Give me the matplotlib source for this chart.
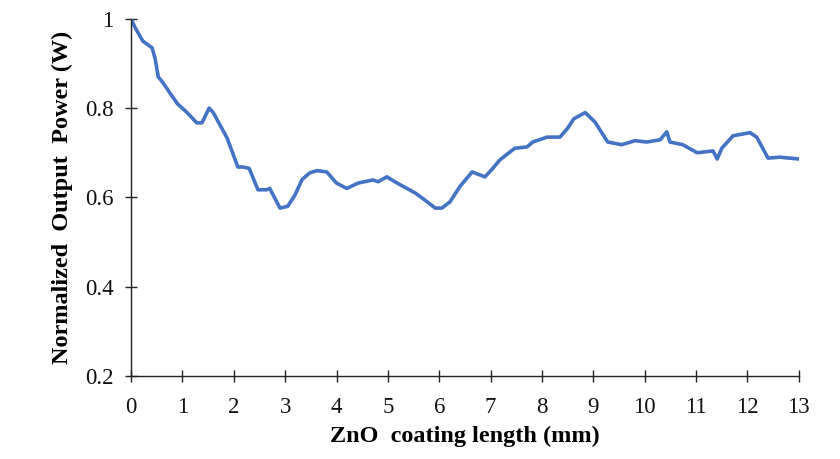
import matplotlib
matplotlib.use("Agg")
import matplotlib.pyplot as plt
from matplotlib.ticker import FixedLocator, FixedFormatter

# ZnO coating length (mm) and normalized output power
length_mm = [0.00, 0.08, 0.23, 0.41, 0.47, 0.53, 0.62, 0.90, 1.09, 1.28, 1.38,
             1.52, 1.60, 1.87, 2.08, 2.18, 2.30, 2.47, 2.64, 2.70, 2.90, 3.05,
             3.19, 3.33, 3.48, 3.62, 3.81, 4.00, 4.20, 4.42, 4.71, 4.81, 4.98,
             5.18, 5.53, 5.72, 5.92, 6.05, 6.21, 6.40, 6.64, 6.89, 7.02, 7.18,
             7.47, 7.71, 7.82, 8.10, 8.35, 8.50, 8.62, 8.84, 9.03, 9.28, 9.55,
             9.81, 10.04, 10.30, 10.43, 10.49, 10.74, 11.02, 11.33, 11.41,
             11.50, 11.72, 12.05, 12.18, 12.40, 12.63, 13.00]
power_norm = [1.000, 0.980, 0.950, 0.935, 0.910, 0.870, 0.857, 0.810, 0.790,
              0.767, 0.767, 0.800, 0.790, 0.733, 0.668, 0.668, 0.665, 0.617,
              0.617, 0.620, 0.576, 0.580, 0.605, 0.640, 0.655, 0.660, 0.657,
              0.632, 0.620, 0.632, 0.639, 0.635, 0.646, 0.632, 0.610, 0.594,
              0.576, 0.576, 0.590, 0.624, 0.657, 0.646, 0.662, 0.684, 0.710,
              0.713, 0.724, 0.735, 0.735, 0.755, 0.776, 0.790, 0.769, 0.724,
              0.718, 0.727, 0.724, 0.729, 0.747, 0.724, 0.718, 0.700, 0.704,
              0.686, 0.710, 0.738, 0.745, 0.735, 0.688, 0.690, 0.686]

x_ticks = list(range(0, 14))
y_ticks = [0.2, 0.4, 0.6, 0.8, 1.0]
y_tick_labels = ["0.2", "0.4", "0.6", "0.8", "1"]

plt.rcParams["font.family"] = ["Liberation Serif", "DejaVu Serif"]

fig = plt.figure(figsize=(8.4, 4.59), dpi=100)
ax = fig.add_axes([0.156, 0.181, 0.795, 0.778])

ax.plot(length_mm, power_norm, color="#4472C4", linewidth=2.6,
        solid_joinstyle="round", solid_capstyle="round")

ax.set_xlim(0, 13)
ax.set_ylim(0.2, 1.0)
ax.xaxis.set_major_locator(FixedLocator(x_ticks))
ax.yaxis.set_major_locator(FixedLocator(y_ticks))
ax.yaxis.set_major_formatter(FixedFormatter(y_tick_labels))

for side in ("top", "right"):
    ax.spines[side].set_visible(False)
for side in ("left", "bottom"):
    ax.spines[side].set_color("#222222")
    ax.spines[side].set_linewidth(1.0)

ax.tick_params(axis="both", direction="inout", length=9, width=1.0,
               colors="#222222", labelsize=16.5, labelcolor="#111111")
ax.tick_params(axis="x", pad=11)
ax.tick_params(axis="y", pad=8)

ax.set_xlabel("ZnO  coating length (mm)", fontsize=17.5, fontweight="bold",
              labelpad=5)
ax.set_ylabel("Normalized  Output  Power (W)", fontsize=17.5,
              fontweight="bold", labelpad=9)

fig.savefig("out.png", dpi=100)
